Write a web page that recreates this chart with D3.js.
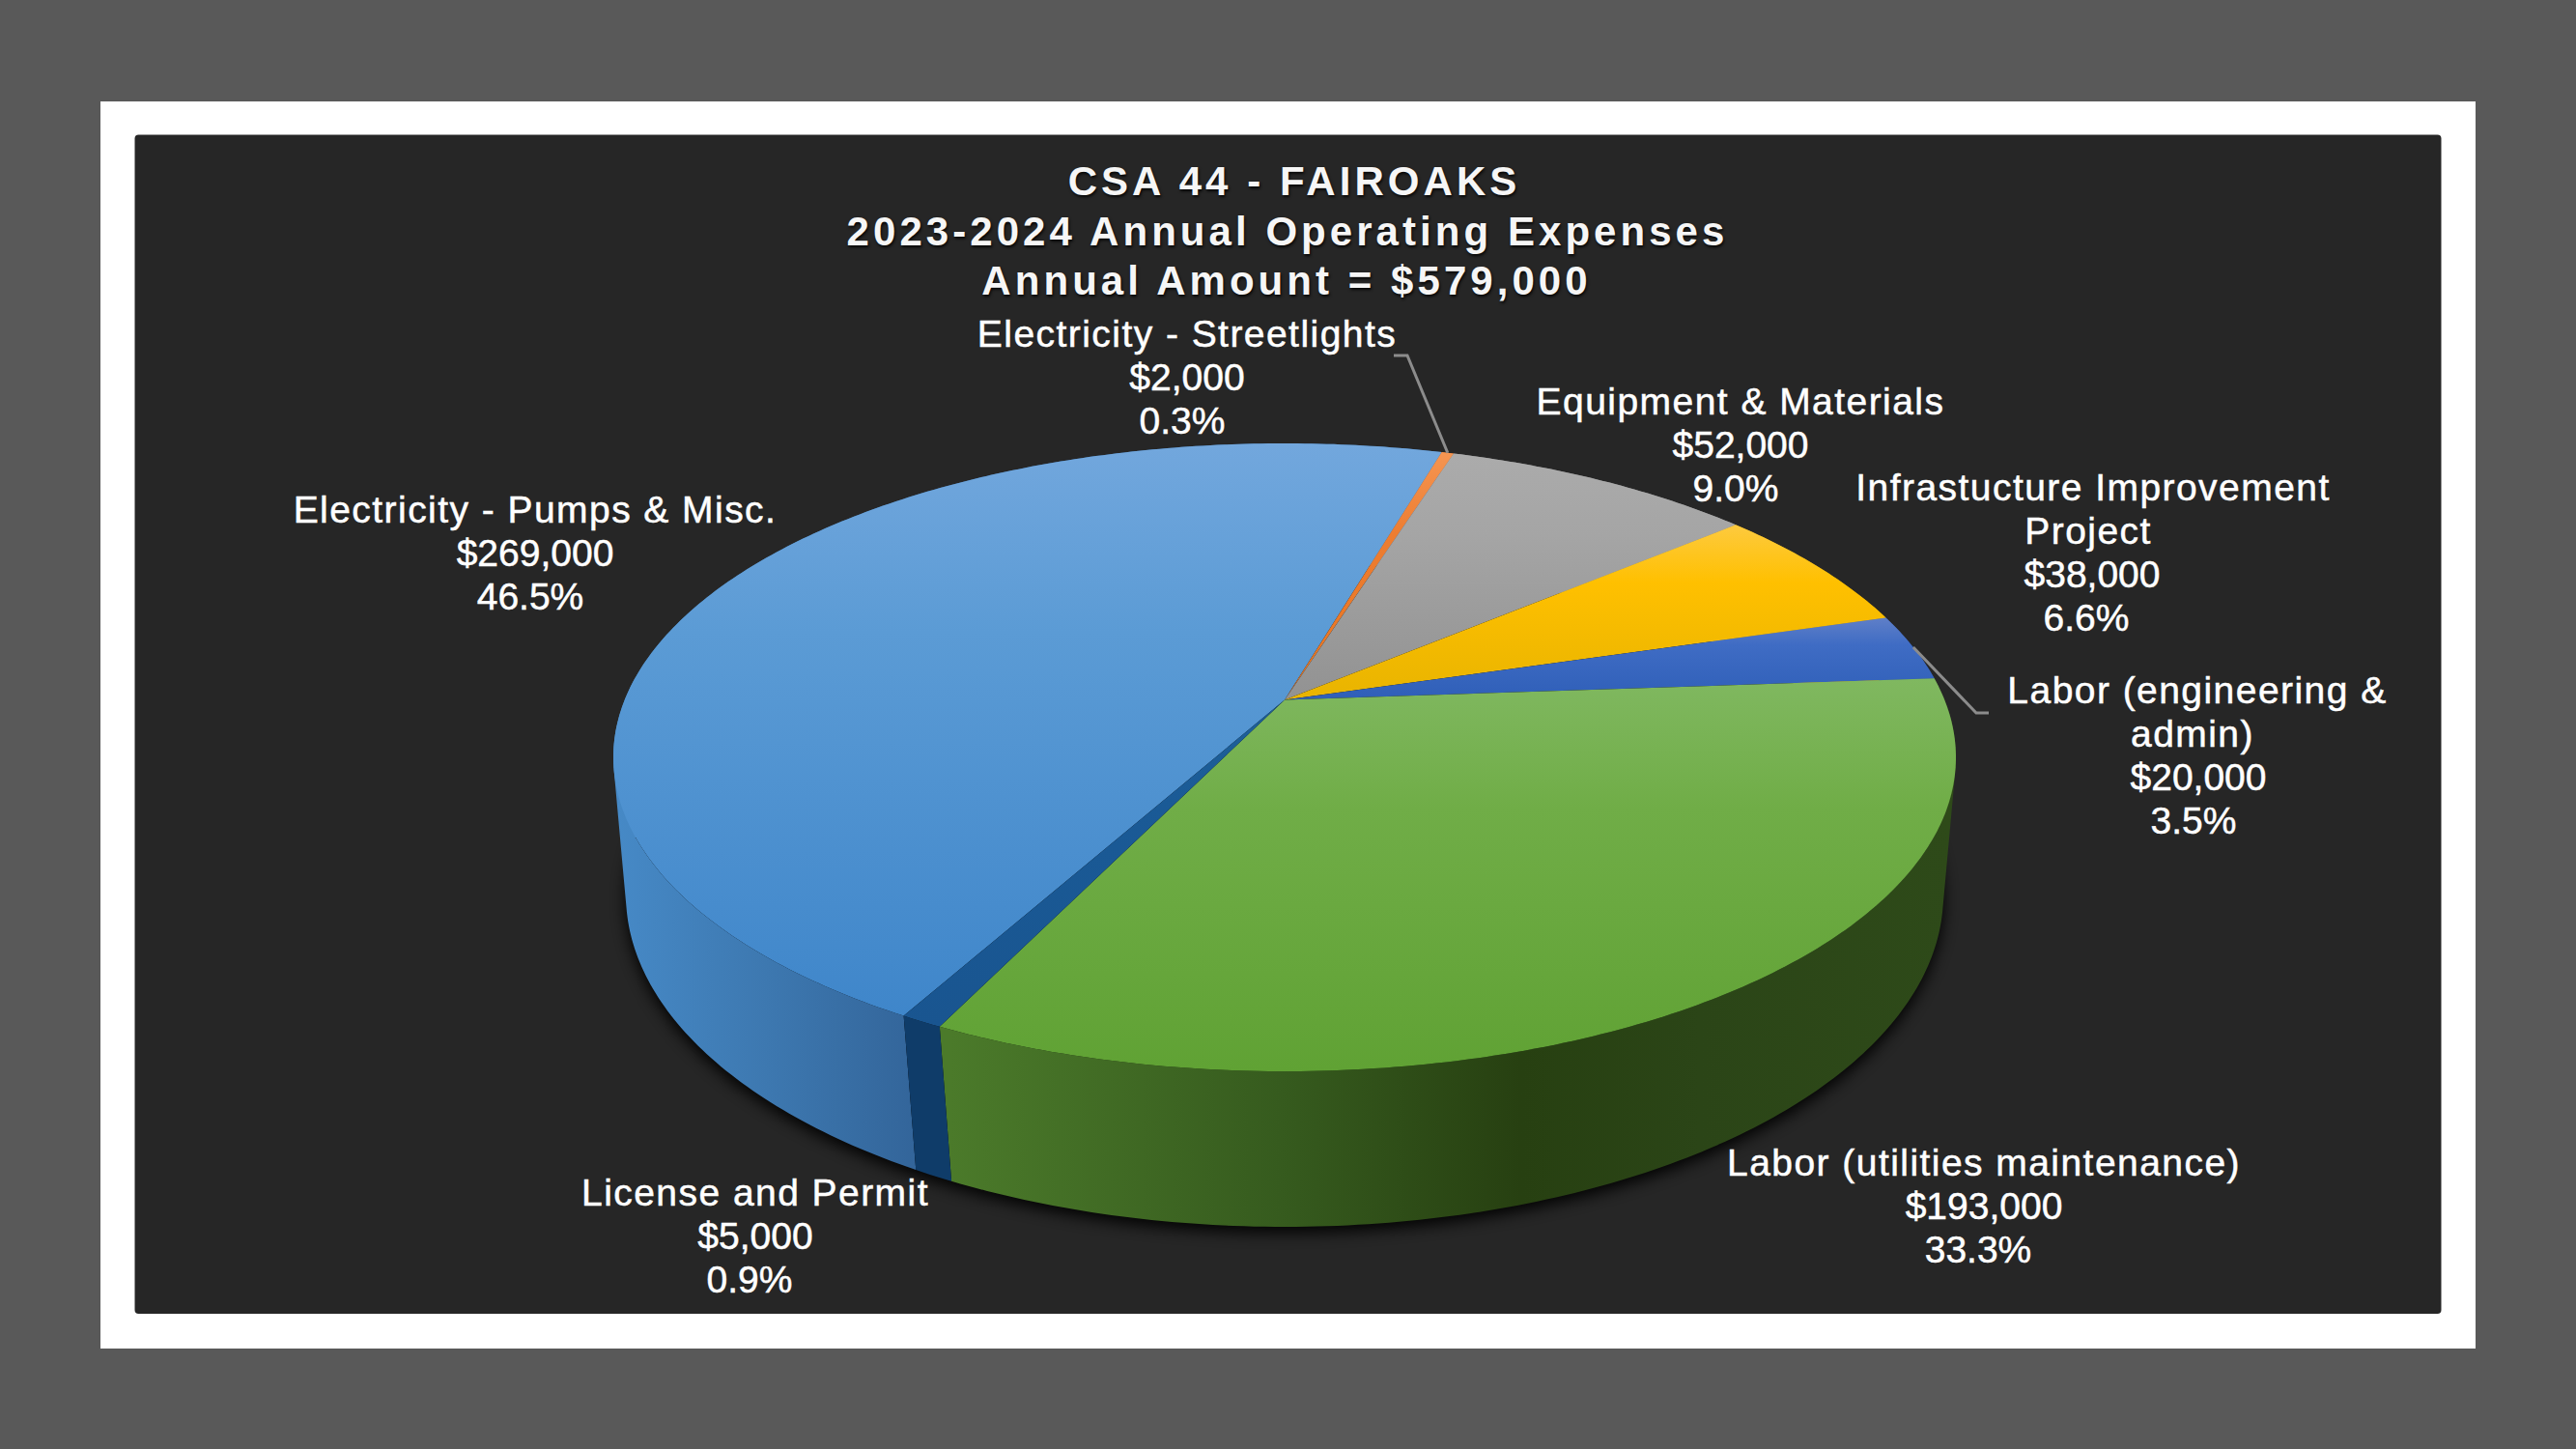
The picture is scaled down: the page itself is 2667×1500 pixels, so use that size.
<!DOCTYPE html>
<html>
<head>
<meta charset="utf-8">
<script src="https://cdn.jsdelivr.net/npm/d3@7/dist/d3.min.js"></script>
<style>
html,body{margin:0;padding:0;background:#595959;}
svg{display:block;}
text{font-family:"Liberation Sans",Arial,sans-serif;fill:#fff;text-anchor:middle;}
.title{font-size:42px;font-weight:bold;letter-spacing:4.05px;fill:#f6f6f6;text-shadow:1px 2px 3px rgba(0,0,0,0.85);}
.lab{font-size:39px;stroke:#fff;stroke-width:0.5px;}
.name{letter-spacing:1.45px;}
</style>
</head>
<body>
<script>
// ---- data ----
const categories = ["Electricity - Pumps & Misc.","Electricity - Streetlights","Equipment & Materials","Infrastucture Improvement|Project","Labor (engineering &|admin)","Labor (utilities maintenance)","License and Permit"];
const amounts = [269000,2000,52000,38000,20000,193000,5000];
const titleLines = ["CSA 44 - FAIROAKS","2023-2024 Annual Operating Expenses","Annual Amount = $579,000"];

// ---- styles & layout (kept apart from data) ----
const titleX = [1340,1333,1332];
const topStops = [
 ["#72a7dd","#5b9bd5","#3f86ca"],
 ["#f59552","#ed7d31","#e87520"],
 ["#ababab","#a5a5a5","#929292"],
 ["#fdca3f","#ffc000","#e8b400"],
 ["#5f7fc8","#3f6cc4","#2f5fb8"],
 ["#80b860","#70ad47","#60a234"],
 ["#1f6199","#1a5a96","#195590"]
];
const wallRange = [[640,948],[0,1],[0,1],[0,1],[0,1],[984,2020],[948,984]];
const wallStops = [
 [[0,"#4689c6"],[0.5,"#3d78b0"],[1,"#33659a"]],
 [[0,"#c0601c"],[1,"#c0601c"]],
 [[0,"#808080"],[1,"#808080"]],
 [[0,"#c09000"],[1,"#c09000"]],
 [[0,"#2a4a90"],[1,"#2a4a90"]],
 [[0,"#4b7a2a"],[0.33,"#365b1e"],[0.57,"#274011"],[0.75,"#2b4517"],[1,"#2e4a19"]],
 [[0,"#0f3c69"],[1,"#0f3c69"]]
];
const labelX = [[554,554,549],[1229,1229,1224],[1802,1802,1797],[2167,2162,2166,2160],[2275,2270,2276,2271],[2054,2054,2048],[782,782,776]];
const labelY = [541,359,429,518,728,1217,1248];
const lineStep = 45;
const leaderEnds = {1:[[1457,368],[1443,368]], 4:[[2046,738],[2059,738]]};

const W=2667,H=1500;
const svg=d3.select("body").append("svg").attr("width",W).attr("height",H);
const defs=svg.append("defs");
defs.append("filter").attr("id","sh").attr("x","-10%").attr("y","-10%").attr("width","120%").attr("height","120%")
  .append("feGaussianBlur").attr("stdDeviation",8);

svg.append("rect").attr("width",W).attr("height",H).attr("fill","#595959");
svg.append("rect").attr("x",104).attr("y",105).attr("width",2459).attr("height",1291).attr("fill","#ffffff");
svg.append("rect").attr("x",139.5).attr("y",139.5).attr("width",2388).attr("height",1220.5).attr("rx",4).attr("fill","#262626");

// perspective mapping of a flat disc
const persp=-0.183;
const topDisc={cx:1330,cy:784,rx:695,ry:325,twist:0};
const lowDisc={cx:1330,cy:926,rx:682,ry:344,twist:-0.008};
function project(disc,a0){
  const a=a0+disc.twist;
  const u=Math.sin(a),v=-Math.cos(a),c=persp;
  const den=1+c*v, b=disc.cy+c*disc.ry, k=(disc.cy+disc.ry)*(1+c)-b;
  return [disc.cx+disc.rx*Math.sqrt(1-c*c)*u/den,(b+k*v)/den];
}
function hub(disc){return [disc.cx,disc.cy+persp*disc.ry];}
function samples(a0,a1){
  const n=Math.max(2,Math.ceil((a1-a0)/(Math.PI/240)));
  return d3.range(n+1).map(i=>a0+(a1-a0)*i/n);
}
const line=d3.line();

const rot=209*Math.PI/180;
const arcs=d3.pie().sort(null).startAngle(rot).endAngle(rot+2*Math.PI)(amounts);

// shadow
const ring=samples(0,2*Math.PI).map(a=>{const p=project(lowDisc,a);return [p[0],p[1]+6];});
svg.append("path").attr("d",line(ring)+"Z").attr("fill","#000").attr("opacity",0.95).attr("filter","url(#sh)");

// gradients
arcs.forEach((d,i)=>{
  const g=defs.append("linearGradient").attr("id","top"+i).attr("x1",0).attr("y1",0).attr("x2",0).attr("y2",1);
  [0,0.33,1].forEach((o,j)=>g.append("stop").attr("offset",o).attr("stop-color",topStops[i][j]));
  const w=defs.append("linearGradient").attr("id","wall"+i).attr("gradientUnits","userSpaceOnUse")
    .attr("x1",wallRange[i][0]).attr("y1",0).attr("x2",wallRange[i][1]).attr("y2",0);
  wallStops[i].forEach(s=>w.append("stop").attr("offset",s[0]).attr("stop-color",s[1]));
});

// walls
const walls=svg.append("g");
arcs.forEach((d,i)=>{
  const as=samples(d.startAngle,d.endAngle);
  let dstr="";
  for(let k=0;k<as.length-1;k++){
    const quad=[project(topDisc,as[k]),project(topDisc,as[k+1]),project(lowDisc,as[k+1]),project(lowDisc,as[k])];
    const s=d3.polygonArea(quad)<0?quad.reverse():quad;
    dstr+=line(s)+"Z";
  }
  walls.append("path").attr("d",dstr).attr("fill",`url(#wall${i})`);
});

// top face
const tops=svg.append("g");
arcs.forEach((d,i)=>{
  const pts=[hub(topDisc)].concat(samples(d.startAngle,d.endAngle).map(a=>project(topDisc,a)));
  tops.append("path").attr("d",line(pts)+"Z").attr("fill",`url(#top${i})`);
});

// leaders
Object.keys(leaderEnds).forEach(k=>{
  const d=arcs[+k], mid=(d.startAngle+d.endAngle)/2;
  svg.append("path").attr("d",line([project(topDisc,mid)].concat(leaderEnds[k])))
    .attr("fill","none").attr("stroke","#8c8c8c").attr("stroke-width",3);
});

// title
titleLines.forEach((t,i)=>{
  svg.append("text").attr("class","title").attr("x",titleX[i]).attr("y",202+i*51.5).text(t);
});

// labels
const fmtD=d3.format("$,"), fmtP=d3.format(".1%"), total=d3.sum(amounts);
categories.forEach((c,i)=>{
  const names=c.split("|");
  const lines=names.concat([fmtD(amounts[i]),fmtP(amounts[i]/total)]);
  lines.forEach((t,j)=>{
    svg.append("text").attr("class",j<names.length?"lab name":"lab").attr("x",labelX[i][j]).attr("y",labelY[i]+j*lineStep).text(t);
  });
});
</script>
</body>
</html>
